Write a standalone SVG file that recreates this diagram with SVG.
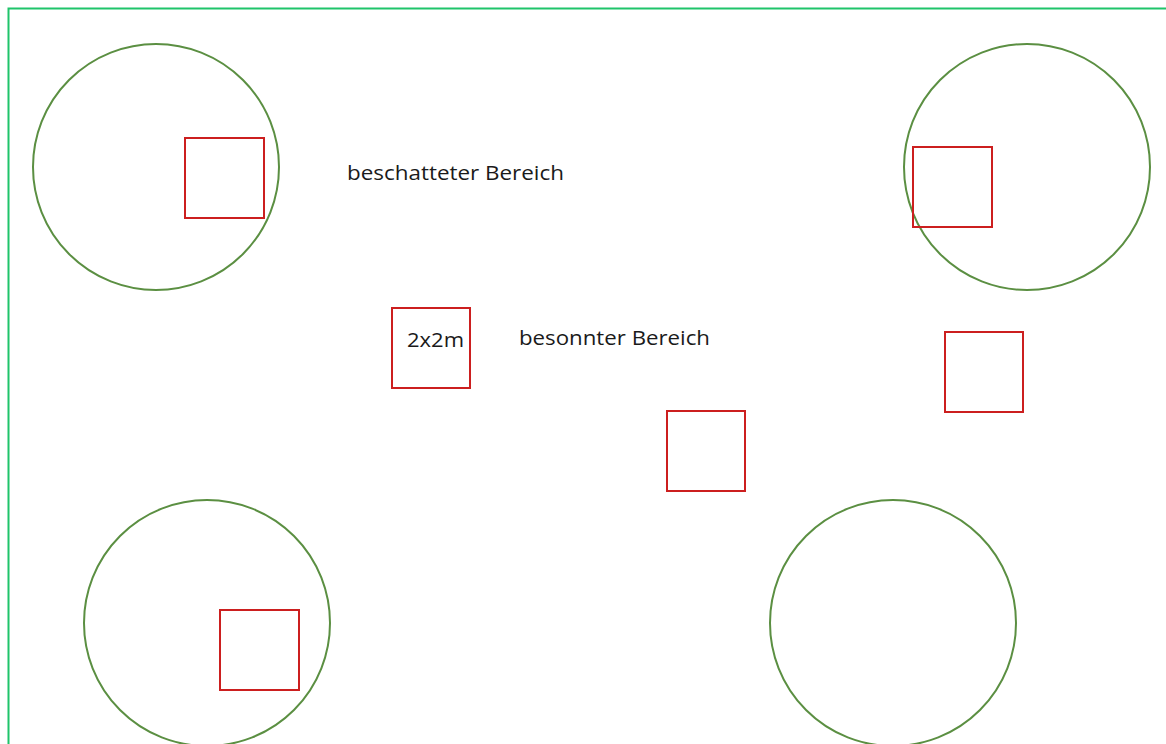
<svg xmlns="http://www.w3.org/2000/svg" width="1166" height="744" viewBox="0 0 1166 744">
<style>
.tree{fill:none;stroke:#5b8f42;stroke-width:2}
.plot{fill:none;stroke:#cc1f1f;stroke-width:2}
.lbl{font-family:"Open Sans","Noto Sans",sans-serif;font-size:20.5px;fill:#1a1a1a}
</style>
<rect width="1166" height="744" fill="#ffffff"/>
<rect id="frame" x="8.5" y="8.5" width="1170" height="760" fill="none" stroke="#1fc46a" stroke-width="2"/>
<g id="tree1"><circle class="tree" cx="156" cy="167" r="123"/></g>
<g id="tree2"><circle class="tree" cx="1027" cy="167" r="123"/></g>
<g id="tree3"><circle class="tree" cx="207" cy="623" r="123"/></g>
<g id="tree4"><circle class="tree" cx="893" cy="623" r="123"/></g>
<g id="plot1"><rect class="plot" x="185" y="138" width="79" height="80"/></g>
<g id="plot2"><rect class="plot" x="913" y="147" width="79" height="80"/></g>
<g id="plot3"><rect class="plot" x="392" y="308" width="78" height="80"/><text class="lbl" x="407" y="347" textLength="57" lengthAdjust="spacingAndGlyphs">2x2m</text></g>
<g id="plot4"><rect class="plot" x="945" y="332" width="78" height="80"/></g>
<g id="plot5"><rect class="plot" x="667" y="411" width="78" height="80"/></g>
<g id="plot6"><rect class="plot" x="220" y="610" width="79" height="80"/></g>
<g id="label-shade"><text class="lbl" x="347" y="180" textLength="217" lengthAdjust="spacingAndGlyphs">beschatteter Bereich</text></g>
<g id="label-sun"><text class="lbl" x="519" y="345" textLength="191" lengthAdjust="spacingAndGlyphs">besonnter Bereich</text></g>
<g id="connectors"/>
</svg>
